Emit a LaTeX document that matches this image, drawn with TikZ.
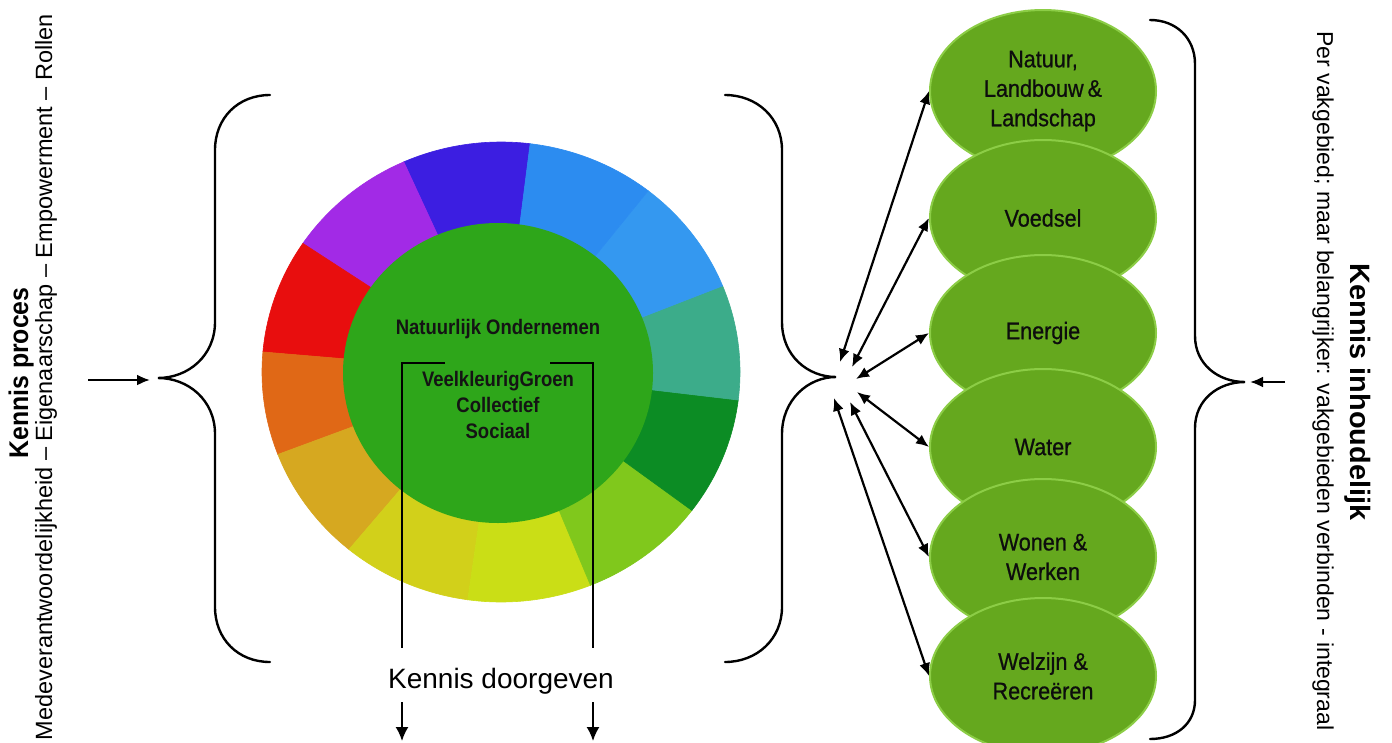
\documentclass[tikz,border=0pt]{standalone}
\usepackage{fontspec}
\setmainfont{Liberation Sans}
\newfontfamily\wheelfont[FakeStretch=0.88]{Liberation Sans}
\newfontfamily\ellfont[FakeStretch=0.9,FakeBold=0.7]{Liberation Sans}
\newfontfamily\kpfont[FakeStretch=0.92]{Liberation Sans}
\newfontfamily\kifont[FakeStretch=1.03]{Liberation Sans}
\usetikzlibrary{shapes.geometric,arrows.meta}
\definecolor{ellfill}{RGB}{101,168,30}
\definecolor{ellborder}{RGB}{140,205,70}
\definecolor{innergreen}{RGB}{46,166,26}
\definecolor{cviolet}{RGB}{60,30,225}
\definecolor{cpurple}{RGB}{162,42,230}
\definecolor{cred}{RGB}{232,14,14}
\definecolor{corange}{RGB}{224,104,22}
\definecolor{cochre}{RGB}{214,168,32}
\definecolor{colive}{RGB}{210,208,26}
\definecolor{cyellow}{RGB}{202,222,22}
\definecolor{clime}{RGB}{128,200,28}
\definecolor{cdgreen}{RGB}{12,140,36}
\definecolor{cteal}{RGB}{60,172,138}
\definecolor{cblueA}{RGB}{52,152,240}
\definecolor{cblueB}{RGB}{44,140,240}
\begin{document}
\begin{tikzpicture}[x=1pt,y=-1pt,
  brace/.style={line width=2.4pt, line cap=round},
  ell/.style={ellipse, draw=ellborder, fill=ellfill, line width=2pt,
    minimum width=226pt, minimum height=156pt, inner sep=0pt, align=center,
    font=\ellfont\fontsize{24}{29.5}\selectfont, text=black!95},
  darr/.style={line width=2.2pt, {Latex[length=13pt,width=11pt]}-{Latex[length=13pt,width=11pt]}},
  sarr/.style={line width=2.2pt, -{Latex[length=13pt,width=11pt]}},
  barr/.style={line width=1.8pt, -{Latex[length=14pt,width=13pt]}},
  thinline/.style={line width=1.8pt},
  wheeltxt/.style={font=\wheelfont\bfseries\fontsize{21}{26}\selectfont, align=center, text=black!92},
]
\useasboundingbox (0,0) rectangle (1392,742);
\fill[white] (0,0) rectangle (1392,742);

% colour wheel
\begin{scope}[shift={(501,372)}, yscale=-1]
  \foreach \a/\b/\c in {83/114/cviolet, 114/146/cpurple, 146/175/cred,
      175/201/corange, 201/230.5/cochre, 230.5/262/colive, 262/292/cyellow,
      292/323/clime, 323/353/cdgreen, 353/382/cteal, 22/52/cblueA, 52/83/cblueB}{
    \fill[\c, draw=\c, line width=0.6pt] (0,0) -- (\a:239 and 230)
      arc[start angle=\a, end angle=\b, x radius=239, y radius=230] -- cycle;
  }
\end{scope}
\node[ellipse, fill=innergreen, minimum width=310pt, minimum height=300pt, inner sep=0pt] (inner) at (498,373) {};

\node[wheeltxt] (no) at (498,329) {Natuurlijk Ondernemen};
\node[wheeltxt] (vg) at (498,405) {VeelkleurigGroen\\Collectief\\Sociaal};

% lines from inner circle down
\coordinate (la) at (445,363);
\coordinate (lb) at (402,648);
\coordinate (ra) at (550,363);
\coordinate (rb) at (593,648);
\draw[thinline] (la) -| (lb);
\draw[thinline] (ra) -| (rb);
\node[font=\fontsize{28}{32}\selectfont, anchor=base] (kd) at (501,688) {Kennis doorgeven};
\coordinate (da1) at (402,702);
\coordinate (da2) at (402,741);
\coordinate (db1) at (593,702);
\coordinate (db2) at (593,741);
\draw[barr] (da1) -- (da2);
\draw[barr] (db1) -- (db2);

% braces around wheel
\draw[brace] (270,95) .. controls (238,95) and (215,118) .. (215,150) -- (215,322)
  .. controls (215,356) and (188,378) .. (158,378)
  .. controls (188,378) and (215,400) .. (215,434) -- (215,607)
  .. controls (215,639) and (238,662) .. (270,662);
\draw[brace] (725,95) .. controls (757,95) and (782,118) .. (782,150) -- (782,322)
  .. controls (782,356) and (808,377) .. (836,377)
  .. controls (808,377) and (782,400) .. (782,434) -- (782,607)
  .. controls (782,639) and (757,662) .. (725,662);
% far right brace
\draw[brace] (1150,20) .. controls (1176,20) and (1195,38) .. (1195,64) -- (1195,336)
  .. controls (1195,364) and (1218,382) .. (1245,382)
  .. controls (1218,382) and (1195,400) .. (1195,428) -- (1195,700)
  .. controls (1195,724) and (1176,739) .. (1150,739);

% left arrow
\coordinate (lin1) at (88,380);
\coordinate (lin2) at (150,380);
\draw[sarr] (lin1) -- (lin2);
% right arrow
\coordinate (rin1) at (1285,382);
\coordinate (rin2) at (1250,382);
\draw[sarr] (rin1) -- (rin2);

% ellipses
\node[ell, minimum height=162pt] (e1) at (1043,91) {Natuur,\\Landbouw\,\&\\Landschap};
\node[ell] (e2) at (1043,218) {Voedsel};
\node[ell] (e3) at (1043,333) {Energie};
\node[ell] (e4) at (1043,447) {Water};
\node[ell] (e5) at (1043,557) {Wonen \&\\Werken};
\node[ell] (e6) at (1043,676) {Welzijn \&\\Recreëren};

% hub arrows
\coordinate (h1) at (840,362);
\coordinate (h2) at (852,367);
\coordinate (h3) at (856,379);
\coordinate (h4) at (857,392);
\coordinate (h5) at (850,402);
\coordinate (h6) at (834,398);
\draw[darr] (h1) -- (e1.west);
\draw[darr] (h2) -- (e2.west);
\draw[darr] (h3) -- (e3.west);
\draw[darr] (h4) -- (e4.west);
\draw[darr] (h5) -- (e5.west);
\draw[darr] (h6) -- (e6.west);

% side texts
\node[rotate=90, anchor=base, font=\kpfont\bfseries\fontsize{27}{32}\selectfont] (kp) at (28,373) {Kennis proces};
\node[rotate=90, anchor=base, font=\fontsize{23.5}{28}\selectfont] (kpt) at (52,377) {Medeverantwoordelijkheid – Eigenaarschap – Empowerment – Rollen};
\node[rotate=-90, anchor=base, font=\kifont\bfseries\fontsize{28}{32}\selectfont] (ki) at (1350,392) {Kennis inhoudelijk};
\node[rotate=-90, anchor=base, font=\fontsize{23}{28}\selectfont] (kit) at (1317,381) {Per vakgebied; maar belangrijker: vakgebieden verbinden - integraal};
\end{tikzpicture}
\end{document}
